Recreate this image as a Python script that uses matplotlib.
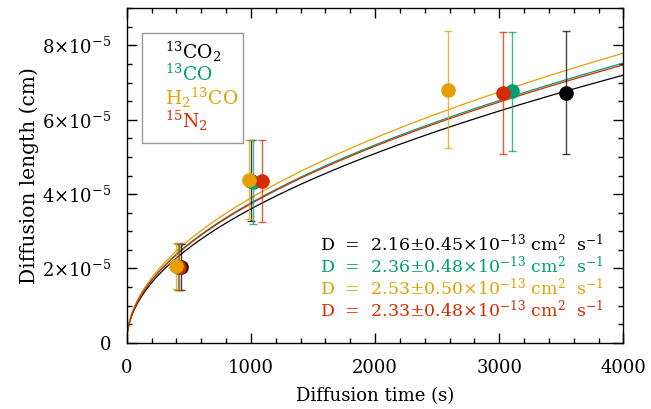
import numpy as np
import matplotlib
matplotlib.use("Agg")
import matplotlib.pyplot as plt
from matplotlib.ticker import MultipleLocator, FuncFormatter
from matplotlib.patches import Rectangle

plt.rcParams['font.family'] = 'serif'
plt.rcParams['font.serif'] = ['DejaVu Serif']
plt.rcParams['mathtext.fontset'] = 'dejavuserif'

# ---- data ----
species = [r'$^{13}$CO$_2$', r'$^{13}$CO', r'H$_2$$^{13}$CO', r'$^{15}$N$_2$']
colors = ['#000000', '#009E73', '#E69F00', '#D52B00']

# diffusion times (s) for each species
t_co2 = [437, 999, 3538]
t_co = [412, 1020, 3101]
t_h2co = [395, 988, 2586]
t_n2 = [420, 1087, 3029]
# diffusion lengths (1e-5 cm)
L_co2 = [2.04, 4.36, 6.73]
L_co = [2.04, 4.32, 6.77]
L_h2co = [2.06, 4.39, 6.81]
L_n2 = [2.05, 4.35, 6.72]
# errors (1e-5 cm)
E_co2 = [0.62, 1.09, 1.65]
E_co = [0.62, 1.13, 1.60]
E_h2co = [0.62, 1.07, 1.57]
E_n2 = [0.62, 1.10, 1.65]
# diffusion coefficients (1e-13 cm2 s-1)
D_vals = [2.16, 2.36, 2.53, 2.33]
D_errs = [0.45, 0.48, 0.50, 0.48]

times = [t_co2, t_co, t_h2co, t_n2]
lengths = [L_co2, L_co, L_h2co, L_n2]
errors = [E_co2, E_co, E_h2co, E_n2]

fig = plt.figure(figsize=(6.51, 4.09), dpi=100)
ax = fig.add_axes([0.1946, 0.1621, 0.7629, 0.8176])

tt = np.linspace(0, 4000, 800)
for D, c in zip(D_vals, colors):
    ax.plot(tt, np.sqrt(6 * D * 1e-13 * tt), color=c, lw=0.9, zorder=2)

order = [0, 1, 3, 2]
for i in order:
    t = np.array(times[i]); L = np.array(lengths[i]) * 1e-5; E = np.array(errors[i]) * 1e-5
    ax.errorbar(t, L, yerr=E, fmt='none', ecolor=colors[i], elinewidth=1.0,
                capsize=3, capthick=1.0, alpha=0.75, zorder=3)
for i in order:
    t = np.array(times[i]); L = np.array(lengths[i]) * 1e-5
    ax.plot(t, L, 'o', color=colors[i], ms=10.5, mec='none', zorder=4)

ax.set_xlim(0, 4000)
ax.set_ylim(0, 9e-5)
ax.xaxis.set_major_locator(MultipleLocator(1000))
ax.xaxis.set_minor_locator(MultipleLocator(200))
ax.yaxis.set_major_locator(MultipleLocator(2e-5))
ax.yaxis.set_minor_locator(MultipleLocator(0.5e-5))

def yfmt(v, pos):
    m = int(round(v / 1e-5))
    if m == 0:
        return '0'
    return r'$%d{\times}10^{-5}$' % m

ax.yaxis.set_major_formatter(FuncFormatter(yfmt))
ax.xaxis.set_major_formatter(FuncFormatter(lambda v, p: '%d' % v))
ax.tick_params(which='both', direction='in', top=True, right=True, width=1.0, labelsize=13)
ax.tick_params(which='major', length=7)
ax.tick_params(which='minor', length=3.5)
ax.tick_params(axis='x', pad=12)
ax.tick_params(axis='y', pad=11)
for s in ax.spines.values():
    s.set_linewidth(1.0)

ax.set_xlabel('Diffusion time (s)', fontsize=13, labelpad=7)
ax.set_ylabel('Diffusion length (cm)', fontsize=14.5, labelpad=2)

# legend box with coloured labels
ax.add_patch(Rectangle((0.030, 0.597), 0.204, 0.329, transform=ax.transAxes,
                       facecolor='white', edgecolor='#999999', lw=1.0, zorder=5))
leg_y = [0.848, 0.783, 0.711, 0.642]
for s, c, y in zip(species, colors, leg_y):
    ax.text(0.077, y, s, transform=ax.transAxes, color=c, fontsize=13.5,
            ha='left', va='baseline', zorder=6)

for k, (D, e, c) in enumerate(zip(D_vals, D_errs, colors)):
    s = r'D  =  %.2f$\pm$%.2f$\times$10$^{-13}$ cm$^2$  s$^{-1}$' % (D, e)
    ax.text(0.389, 0.275 - k * 0.0658, s, transform=ax.transAxes, color=c,
            fontsize=12.5, ha='left', va='baseline')

fig.savefig('out.png', dpi=100)
